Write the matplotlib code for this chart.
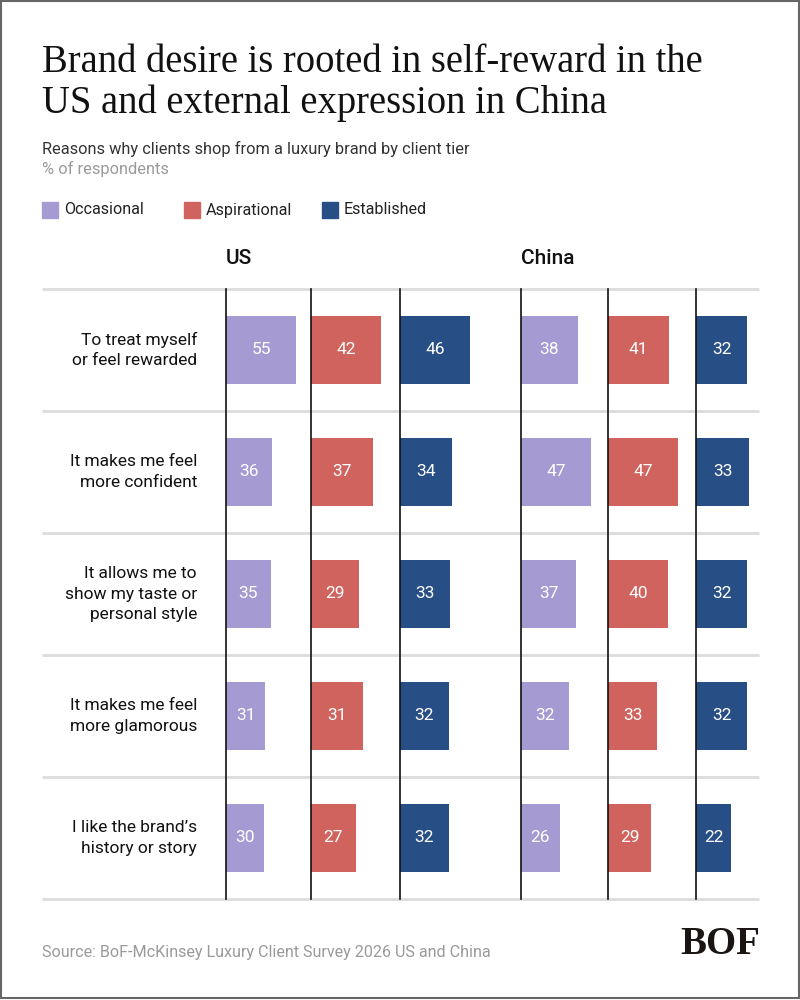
import matplotlib.pyplot as plt
from matplotlib.patches import Rectangle

plt.rcParams['font.family'] = ['Roboto', 'DejaVu Sans']

reasons = [
    "To treat myself\nor feel rewarded",
    "It makes me feel\nmore confident",
    "It allows me to\nshow my taste or\npersonal style",
    "It makes me feel\nmore glamorous",
    "I like the brand\u2019s\nhistory or story",
]
tiers = ["Occasional", "Aspirational", "Established"]
colors = ["#a59ad2", "#d0635e", "#284e86"]
markets = ["US", "China"]

us_occasional = [55, 36, 35, 31, 30]
us_aspirational = [42, 37, 29, 31, 27]
us_established = [46, 34, 33, 32, 32]
china_occasional = [38, 47, 37, 32, 26]
china_aspirational = [41, 47, 40, 33, 29]
china_established = [32, 33, 32, 32, 22]

values = {
    "US": [us_occasional, us_aspirational, us_established],
    "China": [china_occasional, china_aspirational, china_established],
}

W, H = 800, 1000
fig = plt.figure(figsize=(8, 10), dpi=100)
fig.patch.set_facecolor("white")


def fx(px):
    return px / W


def fy(py):
    return 1 - py / H


# layout in pixels
top, bottom = 289, 899
col_x = {"US": [226, 311, 400], "China": [521, 608, 696]}
col_w = {"US": [70, 70, 70], "China": [70, 70, 53]}

# background: row separators
bg = fig.add_axes([fx(42), fy(bottom), fx(759 - 42), (bottom - top) / H])
bg.set_xlim(0, 1)
bg.set_ylim(len(reasons), 0)
bg.axis("off")
bg.hlines(range(len(reasons) + 1), 0, 1, color="#dcdcdc", lw=2, clip_on=False)

for i, r in enumerate(reasons):
    fig.text(fx(197), fy(top + (i + 0.5) * (bottom - top) / len(reasons)), r,
             ha="right", va="center", fontsize=12.5, color="#111111",
             linespacing=1.42)

for m in markets:
    fig.text(fx(col_x[m][0]), fy(258), m, ha="left", va="center",
             fontsize=15, fontweight="medium", color="#111111")
    for j, vals in enumerate(values[m]):
        ax = fig.add_axes([fx(col_x[m][j]), fy(bottom), fx(col_w[m][j]),
                           (bottom - top) / H])
        ax.patch.set_alpha(0)
        ax.set_xlim(0, max(vals))
        ax.set_ylim(len(vals), 0)
        ypos = [k + 0.5 for k in range(len(vals))]
        ax.barh(ypos, vals, height=0.55, color=colors[j], clip_on=False)
        for y, v in zip(ypos, vals):
            ax.text(v / 2, y, str(v), ha="center", va="center",
                    color="white", fontsize=12.5)
        for s in ["top", "right", "bottom"]:
            ax.spines[s].set_visible(False)
        ax.spines["left"].set_color("#111111")
        ax.spines["left"].set_linewidth(1.2)
        ax.set_xticks([])
        ax.set_yticks([])

# titles
fig.text(fx(42), fy(62), "Brand desire is rooted in self-reward in the",
         ha="left", va="center", fontsize=27.8, family="Liberation Serif",
         color="#111111")
fig.text(fx(42), fy(103), "US and external expression in China",
         ha="left", va="center", fontsize=27.8, family="Liberation Serif",
         color="#111111")
fig.text(fx(42), fy(149), "Reasons why clients shop from a luxury brand by client tier",
         ha="left", va="center", fontsize=11.8, color="#333333")
fig.text(fx(42), fy(169), "% of respondents", ha="left", va="center",
         fontsize=11.8, color="#9a9a9a")

# legend
leg_x = [42, 184, 322]
for lx, t, c in zip(leg_x, tiers, colors):
    fig.patches.append(Rectangle((fx(lx), fy(218)), fx(16), 16 / H,
                                 transform=fig.transFigure, color=c))
    fig.text(fx(lx + 22), fy(210), t, ha="left", va="center",
             fontsize=11.6, color="#222222")

# footer
fig.text(fx(42), fy(952), "Source: BoF-McKinsey Luxury Client Survey 2026 US and China",
         ha="left", va="center", fontsize=11.6, color="#9a9a9a")
fig.text(fx(760), fy(944), "BOF", ha="right", va="center", fontsize=28,
         family="Liberation Serif", fontweight="bold", color="#1a1512")

# frame
fig.patches.append(Rectangle((0.001, 0.002), 0.998, 0.997, transform=fig.transFigure,
                             fill=False, edgecolor="#666666", lw=1.5))

fig.savefig("out.png", dpi=100, facecolor="white")
